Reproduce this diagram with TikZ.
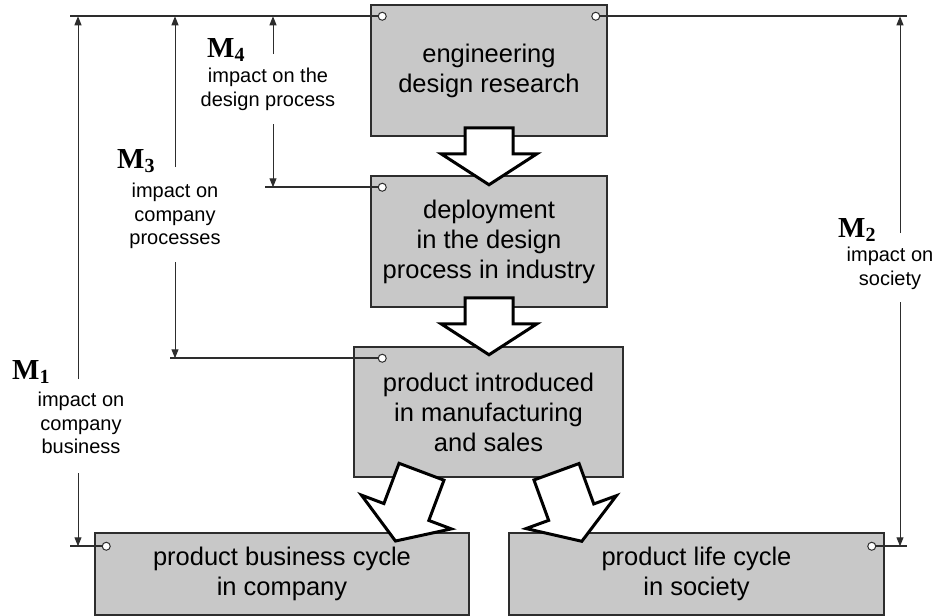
\documentclass[tikz,border=0pt]{standalone}
\usepackage{fontspec}
\setmainfont{Liberation Sans}
\newfontfamily\mfont{Liberation Serif}
\usetikzlibrary{calc,arrows.meta}
\definecolor{stagegray}{RGB}{200,200,200}
\definecolor{linegray}{RGB}{45,45,45}
\tikzset{
  stage/.style={draw=linegray,line width=1.5pt,fill=stagegray,align=center,inner sep=0pt,
    font=\fontsize{25.5}{30}\selectfont},
  pin/.style={circle,draw=linegray,fill=white,line width=1pt,inner sep=0pt,minimum size=8pt},
  rail/.style={draw=linegray,line width=2.2pt},
  gauge/.style={draw=linegray,line width=1pt,-{Triangle[length=9pt,width=7pt]}},
  blockarr/.style={draw=black,line width=3pt,fill=white,line join=miter},
  note/.style={align=center,font=\fontsize{20}{23.5}\selectfont}
}
\newcommand{\barrow}[3]{\draw[blockarr,shift={#1},rotate=#2] (-24,0) -- (-24,#3) -- (-48,#3) -- (0,#3+31) -- (48,#3) -- (24,#3) -- (24,0) -- cycle;}
\newcommand{\mlab}[1]{{\mfont\bfseries\fontsize{29}{29}\selectfont M\raisebox{-4.5pt}{\fontsize{20}{20}\selectfont #1}}}

\begin{document}
\begin{tikzpicture}[x=1pt,y=-1pt]
  \useasboundingbox (0,0) rectangle (938,616);
  \node[stage,minimum width=236pt,minimum height=131pt] (eng) at (489,70.5) {engineering\\design research};
  \node[stage,minimum width=236pt,minimum height=131pt] (dep) at (489,241.5) {deployment\\in the design\\process in industry};
  \node[stage,minimum width=269pt,minimum height=130pt] (prod) at (488.5,412) {product introduced\\in manufacturing\\and sales};
  \node[stage,minimum width=374pt,minimum height=82pt] (biz) at (282,574) {product business cycle\\in company};
  \node[stage,minimum width=375pt,minimum height=82pt] (life) at (696.5,574) {product life cycle\\in society};

  \barrow{($(eng.south)+(0,-9)$)}{0}{26}
  \barrow{($(dep.south)+(0,-10)$)}{0}{26}
  \barrow{($(prod.south)+(-67,-6)$)}{-20.6}{43}
  \barrow{($(prod.south)+(68,-6)$)}{20}{43}

  \node[pin] (p1) at ($(eng.north west)+(12,12)$) {};
  \node[pin] (p2) at ($(eng.north east)+(-12,12)$) {};
  \node[pin] (p3) at ($(dep.north west)+(12,12)$) {};
  \node[pin] (p4) at ($(prod.north west)+(29,12)$) {};
  \node[pin] (p5) at ($(biz.north west)+(12,14)$) {};
  \node[pin] (p6) at ($(life.north east)+(-13,14)$) {};

  \foreach \p/\x in {p1/70,p2/907,p3/265,p4/170,p5/70,p6/907}
    \draw[rail] (\p) -- (\x,0 |- \p);

  \foreach \x/\pa/\pb/\ya/\yb in {78/p1/p5/379/473, 175/p1/p4/167/262, 273/p1/p3/54/124, 900/p2/p6/233/302}{
    \draw[gauge] (\x,\ya) -- (\x,0 |- \pa);
    \draw[gauge] (\x,\yb) -- (\x,0 |- \pb);
  }

  \node[anchor=base west,inner sep=0pt] (m4) at (207,57) {\mlab{4}};
  \node[anchor=base west,inner sep=0pt] (m3) at (117,168) {\mlab{3}};
  \node[anchor=base west,inner sep=0pt] (m1) at (12,379) {\mlab{1}};
  \node[anchor=base west,inner sep=0pt] (m2) at (838,237) {\mlab{2}};

  \node[note] (n4) at (268,89.5) {impact on the\\design process};
  \node[note] (n3) at (175,216) {impact on\\company\\processes};
  \node[note] (n1) at (81,423) {impact on\\company\\business};
  \node[note] (n2) at (890,268.5) {impact on\\society};
\end{tikzpicture}
\end{document}
